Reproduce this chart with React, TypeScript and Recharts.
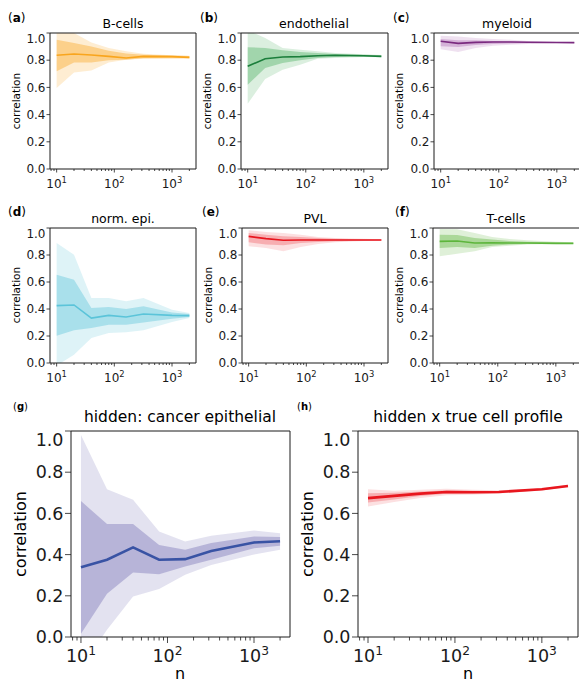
import React from "react";
import { ComposedChart, Area, Line, XAxis, YAxis, ReferenceArea } from "recharts";

// sample sizes shared by every panel
const nValues = [10, 20, 40, 80, 160, 320, 1000, 2000];

// (a) B-cells
const bcMedian = [0.836, 0.846, 0.838, 0.828, 0.816, 0.828, 0.826, 0.821];
const bcInnerLo = [0.718, 0.784, 0.784, 0.8, 0.804, 0.814, 0.815, 0.814];
const bcInnerHi = [0.95, 0.926, 0.9, 0.87, 0.85, 0.84, 0.835, 0.83];
const bcOuterLo = [0.596, 0.71, 0.725, 0.784, 0.804, 0.81, 0.813, 0.813];
const bcOuterHi = [1.05, 1.0, 0.93, 0.89, 0.865, 0.848, 0.837, 0.833];

// (b) endothelial
const enMedian = [0.755, 0.811, 0.824, 0.826, 0.833, 0.836, 0.833, 0.828];
const enInnerLo = [0.62, 0.743, 0.78, 0.8, 0.816, 0.824, 0.826, 0.824];
const enInnerHi = [0.895, 0.89, 0.873, 0.86, 0.853, 0.846, 0.84, 0.836];
const enOuterLo = [0.48, 0.662, 0.73, 0.767, 0.81, 0.816, 0.824, 0.821];
const enOuterHi = [1.02, 0.963, 0.89, 0.877, 0.865, 0.853, 0.843, 0.838];

// (c) myeloid
const myMedian = [0.939, 0.924, 0.931, 0.934, 0.934, 0.932, 0.93, 0.929];
const myInnerLo = [0.902, 0.897, 0.911, 0.919, 0.922, 0.924, 0.926, 0.926];
const myInnerHi = [0.956, 0.946, 0.946, 0.941, 0.939, 0.936, 0.934, 0.932];
const myOuterLo = [0.88, 0.86, 0.89, 0.907, 0.914, 0.919, 0.924, 0.924];
const myOuterHi = [0.98, 0.975, 0.963, 0.956, 0.951, 0.941, 0.936, 0.934];

// (d) norm. epi.
const neMedian = [0.425, 0.43, 0.333, 0.353, 0.341, 0.363, 0.353, 0.351];
const neInnerLo = [0.202, 0.242, 0.259, 0.284, 0.284, 0.3, 0.328, 0.34];
const neInnerHi = [0.654, 0.617, 0.407, 0.415, 0.4, 0.42, 0.375, 0.363];
const neOuterLo = [-0.02, 0.062, 0.185, 0.222, 0.227, 0.242, 0.304, 0.333];
const neOuterHi = [0.889, 0.802, 0.481, 0.481, 0.457, 0.481, 0.395, 0.37];

// (e) PVL
const pvMedian = [0.938, 0.921, 0.909, 0.911, 0.911, 0.911, 0.911, 0.911];
const pvInnerLo = [0.894, 0.877, 0.872, 0.889, 0.896, 0.901, 0.906, 0.908];
const pvInnerHi = [0.963, 0.95, 0.938, 0.933, 0.926, 0.921, 0.916, 0.914];
const pvOuterLo = [0.864, 0.852, 0.827, 0.859, 0.882, 0.894, 0.903, 0.906];
const pvOuterHi = [0.983, 0.97, 0.963, 0.95, 0.933, 0.926, 0.92, 0.916];

// (f) T-cells
const tcMedian = [0.901, 0.904, 0.889, 0.891, 0.889, 0.889, 0.886, 0.886];
const tcInnerLo = [0.852, 0.86, 0.852, 0.869, 0.877, 0.882, 0.882, 0.884];
const tcInnerHi = [0.95, 0.948, 0.926, 0.914, 0.904, 0.899, 0.894, 0.891];
const tcOuterLo = [0.79, 0.81, 0.827, 0.859, 0.869, 0.877, 0.882, 0.882];
const tcOuterHi = [0.993, 0.99, 0.963, 0.933, 0.919, 0.909, 0.899, 0.894];

// (g) hidden: cancer epithelial
const ceMedian = [0.338, 0.375, 0.435, 0.375, 0.378, 0.418, 0.459, 0.465];
const ceInnerLo = [0.016, 0.21, 0.313, 0.305, 0.342, 0.375, 0.431, 0.443];
const ceInnerHi = [0.66, 0.548, 0.548, 0.446, 0.423, 0.456, 0.488, 0.485];
const ceOuterLo = [-0.15, 0.035, 0.197, 0.233, 0.302, 0.35, 0.4, 0.423];
const ceOuterHi = [0.98, 0.717, 0.666, 0.512, 0.464, 0.491, 0.517, 0.504];

// (h) hidden x true cell profile
const tpMedian = [0.674, 0.685, 0.696, 0.704, 0.703, 0.704, 0.717, 0.733];
const tpInnerLo = [0.653, 0.668, 0.685, 0.695, 0.696, 0.699, 0.713, 0.729];
const tpInnerHi = [0.698, 0.7, 0.706, 0.712, 0.71, 0.709, 0.721, 0.737];
const tpOuterLo = [0.633, 0.655, 0.675, 0.688, 0.69, 0.696, 0.711, 0.727];
const tpOuterHi = [0.717, 0.71, 0.715, 0.72, 0.715, 0.712, 0.723, 0.739];

const yTicks = [0, 0.2, 0.4, 0.6, 0.8, 1.0];
const xMajor = [10, 100, 1000];
const xMinor = [8, 9, 20, 30, 40, 50, 60, 70, 80, 90, 200, 300, 400, 500, 600, 700, 800, 900, 2000];

// matplotlib-style 5% margins on the log axis
const XMIN = 7.67;
const XMAX = 2606;
const FONT = "DejaVu Sans";
const INK = "#1a1a1a";

const sup: Record<number, string> = { 10: "1", 100: "2", 1000: "3" };

function makeXTick(fs: number, major: number, minor: number, off: number) {
  return (p: any) => {
    const v = p.payload.value;
    const isMajor = xMajor.includes(v);
    return (
      <g>
        <line x1={p.x} x2={p.x} y1={p.y} y2={p.y + (isMajor ? major : minor)} stroke={INK} strokeWidth={0.8} />
        {isMajor && (
          <text x={p.x} y={p.y + off} textAnchor="middle" fontSize={fs} fill={INK} fontFamily={FONT}>
            10
            <tspan dy={-fs * 0.42} fontSize={fs * 0.7}>
              {sup[v]}
            </tspan>
          </text>
        )}
      </g>
    );
  };
}

type PanelProps = {
  left: number;
  top: number;
  width: number;
  height: number;
  median: number[];
  innerLo: number[];
  innerHi: number[];
  outerLo: number[];
  outerHi: number[];
  color: string;
  band?: string;
  big?: boolean;
};

function Panel({ left, top, width, height, median, innerLo, innerHi, outerLo, outerHi, color, band, big }: PanelProps) {
  const axisW = big ? 48 : 36;
  const axisH = big ? 34 : 24;
  const fs = big ? 17.5 : 12;
  const rows = nValues.map((n, i) => ({
    n,
    med: median[i],
    inner: [innerLo[i], innerHi[i]],
    outer: [outerLo[i], outerHi[i]],
  }));
  const fill = band || color;
  return (
    <div style={{ position: "absolute", left: left - axisW, top: top - 2 }}>
      <ComposedChart
        width={width + axisW + 2}
        height={height + axisH + 2}
        data={rows}
        margin={{ top: 2, right: 2, bottom: 0, left: 0 }}
      >
        <XAxis
          dataKey="n"
          type="number"
          scale="log"
          domain={[XMIN, XMAX]}
          allowDataOverflow
          ticks={[...xMajor, ...xMinor]}
          interval={0}
          height={axisH}
          axisLine={false}
          tickLine={false}
          tickSize={0}
          tickMargin={0}
          tick={makeXTick(fs, big ? 6 : 3.5, big ? 3.5 : 2, big ? 25 : 19)}
        />
        <YAxis
          type="number"
          domain={[0, 1]}
          allowDataOverflow
          ticks={yTicks}
          width={axisW}
          axisLine={false}
          tickLine={{ stroke: INK, strokeWidth: 0.8 }}
          tickSize={big ? 6 : 3.5}
          tickMargin={big ? 1.5 : 1}
          tickFormatter={(v: number) => v.toFixed(1)}
          tick={{ fill: INK, fontSize: fs, fontFamily: FONT }}
        />
        <Area type="linear" dataKey="outer" stroke="none" fill={fill} fillOpacity={0.2} dot={false} activeDot={false} isAnimationActive={false} />
        <Area type="linear" dataKey="inner" stroke="none" fill={fill} fillOpacity={0.4} dot={false} activeDot={false} isAnimationActive={false} />
        <Line type="linear" dataKey="med" stroke={color} strokeWidth={big ? 2.6 : 1.6} dot={false} activeDot={false} isAnimationActive={false} />
        <ReferenceArea x1={XMIN} x2={XMAX} y1={0} y2={1} fill="none" stroke={INK} strokeWidth={1} ifOverflow="visible" />
      </ComposedChart>
    </div>
  );
}

function Letter({ x, y, ch, fs }: { x: number; y: number; ch: string; fs: number }) {
  return (
    <text x={x} y={y} fontSize={fs} fontFamily={FONT} fill="#000">
      (<tspan fontWeight="bold">{ch}</tspan>)
    </text>
  );
}

function YLabel({ x, y, fs }: { x: number; y: number; fs: number }) {
  return (
    <text x={x} y={y} fontSize={fs} fontFamily={FONT} fill="#000" textAnchor="middle" dominantBaseline="central" transform={`rotate(-90 ${x} ${y})`}>
      correlation
    </text>
  );
}

export default function App() {
  return (
    <div style={{ position: "absolute", left: 0, top: 0, width: 579, height: 684, overflow: "hidden", background: "#fff" }}>
      <Panel left={50} top={33} width={146} height={136} median={bcMedian} innerLo={bcInnerLo} innerHi={bcInnerHi} outerLo={bcOuterLo} outerHi={bcOuterHi} color="#f9a51d" />
      <Panel left={241} top={33} width={147} height={136} median={enMedian} innerLo={enInnerLo} innerHi={enInnerHi} outerLo={enOuterLo} outerHi={enOuterHi} color="#1b7e3b" band="#4caf5f" />
      <Panel left={434} top={33} width={147} height={136} median={myMedian} innerLo={myInnerLo} innerHi={myInnerHi} outerLo={myOuterLo} outerHi={myOuterHi} color="#7a2a7f" band="#b06bb3" />
      <Panel left={50} top={228} width={146} height={135} median={neMedian} innerLo={neInnerLo} innerHi={neInnerHi} outerLo={neOuterLo} outerHi={neOuterHi} color="#5bc4d9" />
      <Panel left={242} top={228} width={146} height={135} median={pvMedian} innerLo={pvInnerLo} innerHi={pvInnerHi} outerLo={pvOuterLo} outerHi={pvOuterHi} color="#e8161e" band="#f0646a" />
      <Panel left={433} top={228} width={147} height={135} median={tcMedian} innerLo={tcInnerLo} innerHi={tcInnerHi} outerLo={tcOuterLo} outerHi={tcOuterHi} color="#5db53c" />
      <Panel left={71} top={431} width={219} height={206} median={ceMedian} innerLo={ceInnerLo} innerHi={ceInnerHi} outerLo={ceOuterLo} outerHi={ceOuterHi} color="#3953a4" band="#7570b3" big />
      <Panel left={358} top={431} width={220} height={206} median={tpMedian} innerLo={tpInnerLo} innerHi={tpInnerHi} outerLo={tpOuterLo} outerHi={tpOuterHi} color="#e8161e" band="#f0646a" big />

      <svg width={579} height={684} style={{ position: "absolute", left: 0, top: 0, pointerEvents: "none" }}>
        <Letter x={8} y={22} ch="a" fs={12} />
        <Letter x={200} y={22} ch="b" fs={12} />
        <Letter x={393} y={22} ch="c" fs={12} />
        <Letter x={8} y={216} ch="d" fs={12} />
        <Letter x={202} y={216} ch="e" fs={12} />
        <Letter x={395} y={216} ch="f" fs={12} />
        <Letter x={13} y={410} ch="g" fs={10} />
        <Letter x={297} y={410} ch="h" fs={10} />

        <g fontFamily={FONT} fontSize={12.5} fill="#000" textAnchor="middle">
          <text x={123} y={28}>B-cells</text>
          <text x={314} y={28}>endothelial</text>
          <text x={507} y={28}>myeloid</text>
          <text x={123} y={223}>norm. epi.</text>
          <text x={315} y={223}>PVL</text>
          <text x={506} y={223}>T-cells</text>
        </g>
        <g fontFamily={FONT} fontSize={15.5} fill="#000" textAnchor="middle">
          <text x={180} y={422}>hidden: cancer epithelial</text>
          <text x={468} y={422}>hidden x true cell profile</text>
        </g>

        <YLabel x={16} y={101} fs={10.5} />
        <YLabel x={207} y={101} fs={10.5} />
        <YLabel x={399} y={101} fs={10.5} />
        <YLabel x={16} y={295} fs={10.5} />
        <YLabel x={208} y={295} fs={10.5} />
        <YLabel x={399} y={295} fs={10.5} />
        <YLabel x={20} y={534} fs={16} />
        <YLabel x={307} y={534} fs={16} />

        <g fontFamily={FONT} fontSize={16} fill="#000" textAnchor="middle">
          <text x={180} y={679}>n</text>
          <text x={468} y={679}>n</text>
        </g>
      </svg>
    </div>
  );
}
